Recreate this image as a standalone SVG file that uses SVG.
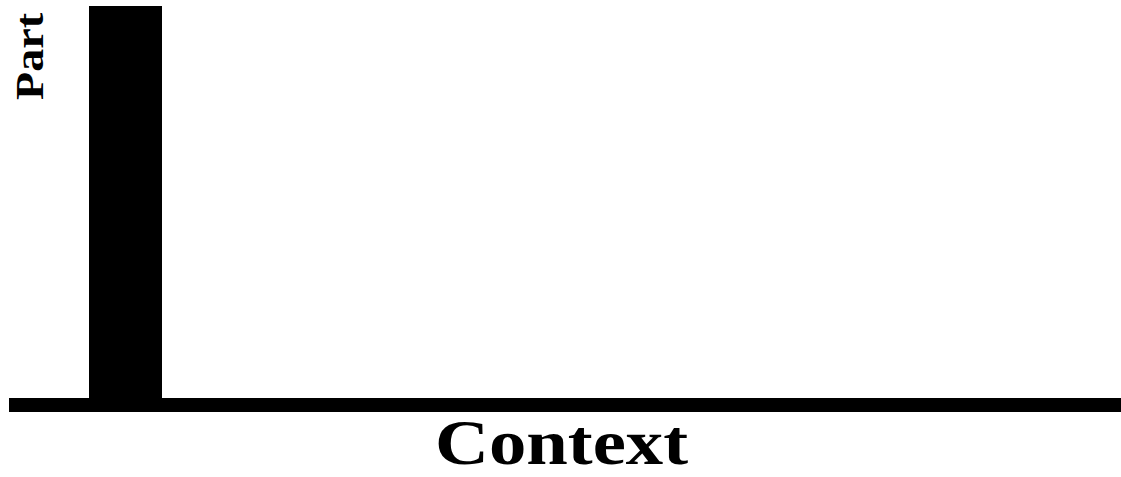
<svg xmlns="http://www.w3.org/2000/svg" width="1121" height="477" viewBox="0 0 1121 477">
<style>
.lbl{font-family:"Liberation Serif","DejaVu Serif",serif;font-weight:bold;fill:#000}
</style>
<rect width="1121" height="477" fill="#fff"/>
<g id="bar"><rect x="89" y="6" width="73" height="394" fill="#000"/></g>
<g id="axis"><rect x="9" y="398" width="1112" height="14" fill="#000"/></g>
<g id="ylabel"><text class="lbl" transform="translate(43,100) rotate(-90)" font-size="40" textLength="87" lengthAdjust="spacingAndGlyphs">Part</text></g>
<g id="xlabel"><text class="lbl" x="435" y="464" font-size="64" textLength="253" lengthAdjust="spacingAndGlyphs">Context</text></g>
</svg>
